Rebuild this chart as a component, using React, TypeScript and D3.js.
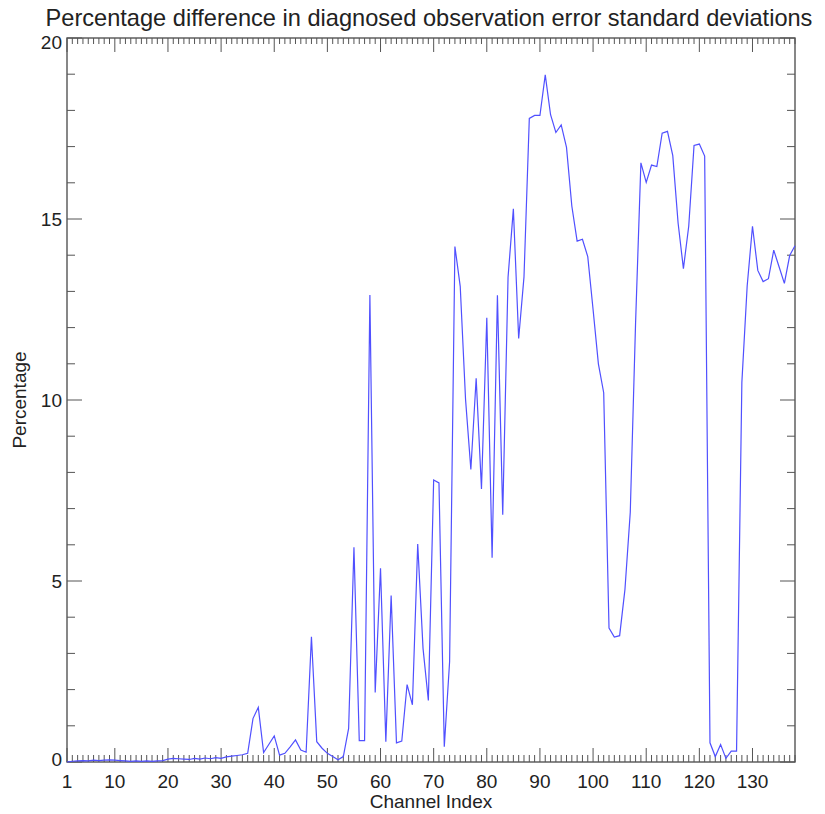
import React from "react";
import * as d3 from "d3";

const TITLE = "Percentage difference in diagnosed observation error standard deviations";
const X_LABEL = "Channel Index";
const Y_LABEL = "Percentage";

const channels: number[] = d3.range(1, 139);

const percentDiff: number[] = [
  // 1-10
  0.0, 0.02, 0.03, 0.04, 0.03, 0.05, 0.04, 0.05, 0.06, 0.05,
  // 11-20
  0.04, 0.03, 0.02, 0.03, 0.02, 0.03, 0.02, 0.03, 0.04, 0.08,
  // 21-30
  0.1, 0.09, 0.08, 0.07, 0.1, 0.08, 0.11, 0.09, 0.12, 0.1,
  // 31-40
  0.14, 0.16, 0.18, 0.2, 0.24, 1.2, 1.51, 0.26, 0.49, 0.72,
  // 41-50
  0.19, 0.24, 0.42, 0.61, 0.33, 0.27, 3.46, 0.56, 0.38, 0.24,
  // 51-60
  0.15, 0.06, 0.15, 0.93, 5.93, 0.59, 0.59, 12.9, 1.92, 5.35,
  // 61-70
  0.56, 4.6, 0.53, 0.58, 2.14, 1.58, 6.02, 3.14, 1.7, 7.79,
  // 71-80
  7.71, 0.42, 2.77, 14.24, 13.14, 10.02, 8.08, 10.6, 7.54, 12.27,
  // 81-90
  5.64, 12.89, 6.83, 13.39, 15.28, 11.7, 13.4, 17.78, 17.86, 17.86,
  // 91-100
  18.98, 17.88, 17.39, 17.6, 16.98, 15.36, 14.39, 14.44, 13.96, 12.5,
  // 101-110
  11.0, 10.2, 3.7, 3.45, 3.49, 4.77, 6.9, 12.14, 16.55, 16.01,
  // 111-120
  16.49, 16.45, 17.37, 17.42, 16.75, 14.89, 13.63, 14.8, 17.03, 17.07,
  // 121-130
  16.74, 0.53, 0.15, 0.48, 0.1, 0.3, 0.3, 10.48, 13.15, 14.8,
  // 131-138
  13.58, 13.27, 13.35, 14.14, 13.68, 13.22, 13.99, 14.26,
];

const xMajorTicks: number[] = [1, 10, 20, 30, 40, 50, 60, 70, 80, 90, 100, 110, 120, 130];
const yMajorTicks: number[] = [0, 5, 10, 15, 20];

const W = 825;
const H = 814;
const L = 67, R = 795, T = 38, B = 762;
const FONT = "'Liberation Sans', Arial, Helvetica, sans-serif";
const AXIS = "#555";
const TEXT = "#222";

export default function App() {
  const x = d3.scaleLinear().domain([1, 138]).range([L, R]);
  const y = d3.scaleLinear().domain([0, 20]).range([B, T]);

  const line = d3
    .line<number>()
    .x((_, i) => x(channels[i]))
    .y((d) => y(d));

  const xMinor = d3.range(1, 139).filter((c) => !xMajorTicks.includes(c));
  const yMinor = d3.range(0, 21).filter((v) => !yMajorTicks.includes(v));

  return (
    <svg
      width={W}
      height={H}
      style={{ position: "absolute", left: 0, top: 0, background: "#fff" }}
      fontFamily={FONT}
    >
      <rect x={0} y={0} width={W} height={H} fill="#fff" />
      <text x={429} y={26} textAnchor="middle" fontSize={23.6} fill={TEXT}>
        {TITLE}
      </text>

      {/* minor x ticks bottom and top */}
      {xMinor.map((c) => (
        <g key={"xm" + c} stroke={AXIS} strokeWidth={1}>
          <line x1={x(c)} x2={x(c)} y1={B} y2={B - 7} />
          <line x1={x(c)} x2={x(c)} y1={T} y2={T + 6} />
        </g>
      ))}
      {xMajorTicks.map((c) => (
        <g key={"xM" + c}>
          <line x1={x(c)} x2={x(c)} y1={B} y2={B - 14} stroke={AXIS} strokeWidth={1} />
          <line x1={x(c)} x2={x(c)} y1={T} y2={T + 14} stroke={AXIS} strokeWidth={1} />
          <text x={x(c)} y={788} textAnchor="middle" fontSize={19} fill={TEXT}>
            {c}
          </text>
        </g>
      ))}

      {yMinor.map((v) => (
        <g key={"ym" + v} stroke={AXIS} strokeWidth={1}>
          <line x1={L} x2={L + 8} y1={y(v)} y2={y(v)} />
          <line x1={R} x2={R - 8} y1={y(v)} y2={y(v)} />
        </g>
      ))}
      {yMajorTicks.map((v) => (
        <g key={"yM" + v}>
          <line x1={L} x2={L + 15} y1={y(v)} y2={y(v)} stroke={AXIS} strokeWidth={1} />
          <line x1={R} x2={R - 15} y1={y(v)} y2={y(v)} stroke={AXIS} strokeWidth={1} />
          <text
            x={62}
            y={y(v) + (v === 20 ? 4 : v === 0 ? -3 : 0)}
            textAnchor="end"
            dominantBaseline="central"
            fontSize={19}
            fill={TEXT}
          >
            {v}
          </text>
        </g>
      ))}

      <rect x={L} y={T} width={R - L} height={B - T} fill="none" stroke={AXIS} strokeWidth={1.4} />

      <path d={line(percentDiff) || ""} fill="none" stroke="rgb(80,80,255)" strokeWidth={1.2} />

      <text x={(L + R) / 2} y={808} textAnchor="middle" fontSize={19} fill={TEXT}>
        {X_LABEL}
      </text>
      <text
        transform={`translate(26, 400) rotate(-90)`}
        textAnchor="middle"
        fontSize={19}
        fill={TEXT}
      >
        {Y_LABEL}
      </text>
    </svg>
  );
}
